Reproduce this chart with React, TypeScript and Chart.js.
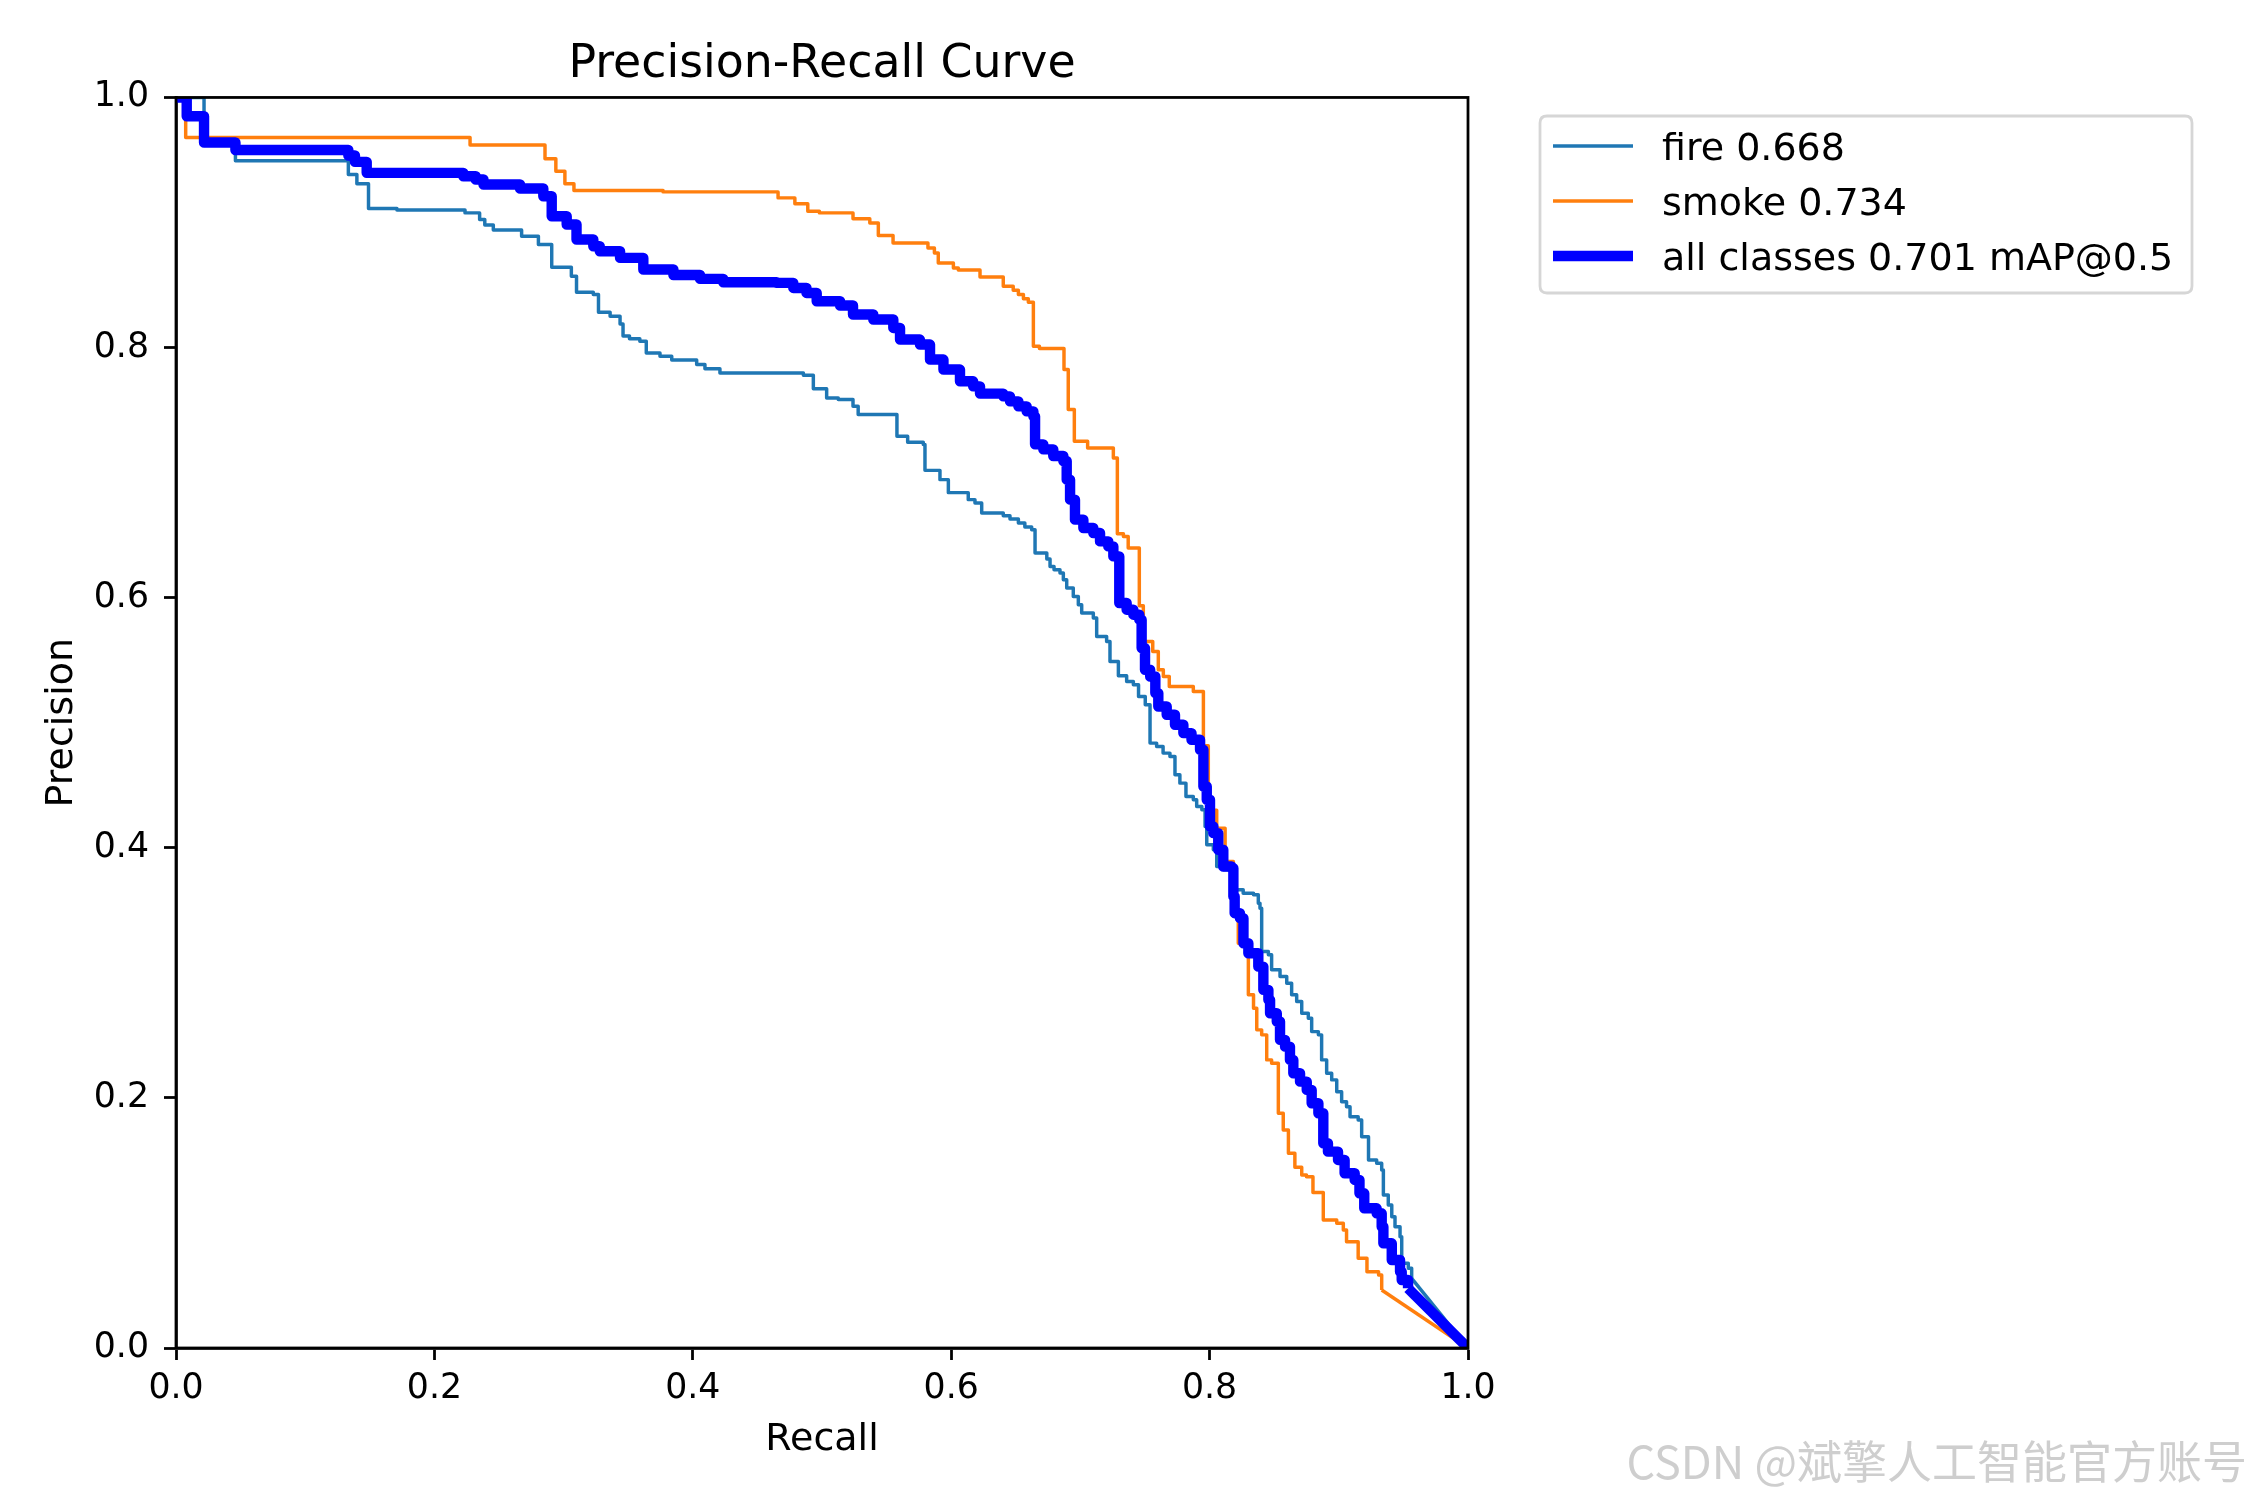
import React, { useEffect, useRef } from 'react';
import { Chart, registerables } from 'chart.js';

Chart.register(...registerables);

// ---------------- data ----------------
const chartTitle = 'Precision-Recall Curve';
const xAxisTitle = 'Recall';
const yAxisTitle = 'Precision';
const xTicks = [0, 0.2, 0.4, 0.6, 0.8, 1.0];
const yTicks = [0, 0.2, 0.4, 0.6, 0.8, 1.0];

const classNames = ['fire', 'smoke'];
const classAP = [0.668, 0.734];
const allLabel = 'all classes';
const allAP = 0.701;
const allSuffix = 'mAP@0.5';

// each point = recall where a precision level starts, and that level
const fireRecall = [
  0, 0.0217, 0.046, 0.1334, 0.14, 0.149, 0.171, 0.2237, 0.235, 0.239, 0.2456, 0.2675, 0.2805, 0.2908,
  0.306, 0.31, 0.323, 0.327, 0.336, 0.3437, 0.346, 0.351, 0.359, 0.364, 0.3746, 0.3837, 0.403, 0.4094,
  0.421, 0.4856, 0.4933, 0.5036, 0.5126, 0.524, 0.528, 0.558, 0.5663, 0.5784, 0.5797, 0.5913, 0.5978,
  0.6132, 0.6184, 0.6236, 0.6403, 0.6455, 0.652, 0.657, 0.6623, 0.6649, 0.674, 0.6765, 0.6796, 0.6842,
  0.6868, 0.6894, 0.6945, 0.6984, 0.701, 0.71, 0.7126, 0.7203, 0.7229, 0.7294, 0.7358, 0.741, 0.745,
  0.7502, 0.7539, 0.759, 0.764, 0.7693, 0.7732, 0.777, 0.7817, 0.7874, 0.79, 0.794, 0.7965, 0.7978,
  0.8029, 0.8055, 0.8106, 0.8184, 0.826, 0.834, 0.8377, 0.839, 0.8403, 0.8455, 0.848, 0.8545, 0.8597,
  0.8635, 0.8674, 0.8713, 0.8764, 0.879, 0.8842, 0.8867, 0.8906, 0.8945, 0.8984, 0.9022, 0.906, 0.9087,
  0.915, 0.9177, 0.923, 0.9293, 0.9332, 0.9345, 0.9383, 0.941, 0.9435, 0.9474, 0.9487, 0.9538, 0.9564,
];
const firePrecision = [
  1.0, 0.962, 0.9494, 0.9384, 0.931, 0.9112, 0.91, 0.9077, 0.9024, 0.898, 0.894, 0.889, 0.8824, 0.8643,
  0.857, 0.8443, 0.8424, 0.8283, 0.825, 0.8189, 0.8093, 0.807, 0.805, 0.7957, 0.793, 0.79, 0.7864, 0.783,
  0.7797, 0.7779, 0.767, 0.7597, 0.7584, 0.753, 0.7464, 0.729, 0.7243, 0.7225, 0.7018, 0.6944, 0.684,
  0.6784, 0.6757, 0.6677, 0.6656, 0.663, 0.6597, 0.6565, 0.6544, 0.6357, 0.6309, 0.625, 0.6224, 0.6197,
  0.6144, 0.6077, 0.601, 0.5944, 0.5877, 0.5837, 0.569, 0.565, 0.549, 0.5376, 0.533, 0.5304, 0.521,
  0.5144, 0.4837, 0.481, 0.4757, 0.473, 0.4584, 0.4517, 0.441, 0.4384, 0.433, 0.4304, 0.417, 0.4024,
  0.3984, 0.385, 0.3824, 0.3664, 0.3637, 0.3624, 0.3557, 0.3517, 0.317, 0.3144, 0.3024, 0.297, 0.2917,
  0.2824, 0.277, 0.2677, 0.2637, 0.253, 0.2504, 0.2304, 0.2197, 0.2144, 0.205, 0.197, 0.193, 0.185,
  0.1824, 0.169, 0.1504, 0.1477, 0.1424, 0.1224, 0.1144, 0.105, 0.097, 0.089, 0.0677, 0.0637, 0.0557,
];
const fireTailRecall = [0.9564, 1.0];
const fireTailPrecision = [0.0557, 0.0];

const smokeRecall = [
  0, 0.0075, 0.2276, 0.2856, 0.294, 0.301, 0.308, 0.377, 0.466, 0.479, 0.489, 0.498, 0.524, 0.537,
  0.5436, 0.555, 0.582, 0.587, 0.59, 0.6017, 0.6055, 0.6223, 0.6403, 0.648, 0.652, 0.6559, 0.6597,
  0.6636, 0.6683, 0.6873, 0.6906, 0.6953, 0.7056, 0.7255, 0.7286, 0.7333, 0.737, 0.7456, 0.7487, 0.756,
  0.7603, 0.7642, 0.7688, 0.7874, 0.7952, 0.799, 0.8055, 0.812, 0.8184, 0.8222, 0.8287, 0.83, 0.834,
  0.8365, 0.8403, 0.8442, 0.848, 0.8532, 0.857, 0.861, 0.866, 0.8713, 0.875, 0.88, 0.888, 0.8984,
  0.9035, 0.906, 0.915, 0.9218, 0.9308, 0.9332,
];
const smokePrecision = [
  1.0, 0.968, 0.962, 0.951, 0.941, 0.931, 0.9256, 0.9245, 0.9197, 0.915, 0.909, 0.9077, 0.903, 0.8997,
  0.8896, 0.8837, 0.8797, 0.8757, 0.8677, 0.8637, 0.862, 0.8565, 0.849, 0.8458, 0.8424, 0.839, 0.8362,
  0.801, 0.7992, 0.7824, 0.7504, 0.725, 0.7197, 0.7117, 0.6512, 0.649, 0.6397, 0.5936, 0.565, 0.557,
  0.5424, 0.537, 0.529, 0.525, 0.4816, 0.43, 0.4157, 0.389, 0.3457, 0.3237, 0.3213, 0.2824, 0.2717,
  0.2544, 0.2504, 0.2304, 0.2277, 0.1877, 0.1744, 0.1557, 0.1445, 0.1384, 0.137, 0.1243, 0.1024, 0.0997,
  0.0944, 0.085, 0.0717, 0.061, 0.0584, 0.0464,
];
const smokeTailRecall = [0.9332, 1.0];
const smokeTailPrecision = [0.0464, 0.0];

const allRecall = [
  0, 0.0083, 0.0217, 0.046, 0.1334, 0.1385, 0.1476, 0.2224, 0.232, 0.238, 0.2663, 0.2843, 0.2908,
  0.3024, 0.31, 0.323, 0.328, 0.3437, 0.3617, 0.385, 0.4056, 0.4236, 0.4649, 0.4778, 0.488, 0.4959,
  0.514, 0.524, 0.5397, 0.5552, 0.5604, 0.5758, 0.5836, 0.594, 0.6068, 0.617, 0.6223, 0.6403, 0.6455,
  0.652, 0.6584, 0.6636, 0.6649, 0.6713, 0.679, 0.6868, 0.6894, 0.692, 0.6958, 0.7023, 0.71, 0.7152,
  0.7216, 0.7255, 0.7301, 0.7358, 0.741, 0.7456, 0.7474, 0.75, 0.754, 0.758, 0.7603, 0.7668, 0.7732,
  0.7797, 0.786, 0.7926, 0.7952, 0.7978, 0.8003, 0.8029, 0.8067, 0.8106, 0.817, 0.8184, 0.8194, 0.8235,
  0.8262, 0.83, 0.8377, 0.8416, 0.8455, 0.8468, 0.852, 0.8545, 0.8584, 0.8622, 0.8648, 0.87, 0.8752,
  0.879, 0.8842, 0.888, 0.8916, 0.8994, 0.9045, 0.9123, 0.916, 0.9197, 0.9293, 0.9332, 0.9345, 0.941,
  0.9474, 0.9487, 0.9536,
];
const allPrecision = [
  1.0, 0.985, 0.964, 0.958, 0.9536, 0.9485, 0.9397, 0.937, 0.9344, 0.9304, 0.9272, 0.921, 0.905,
  0.8984, 0.8864, 0.881, 0.877, 0.8717, 0.8624, 0.858, 0.8549, 0.8522, 0.8517, 0.8477, 0.8437, 0.837,
  0.8336, 0.8264, 0.8224, 0.8157, 0.8064, 0.8024, 0.7904, 0.7824, 0.773, 0.769, 0.7632, 0.761, 0.757,
  0.753, 0.749, 0.745, 0.7226, 0.7186, 0.7133, 0.7093, 0.6944, 0.6784, 0.6624, 0.6557, 0.6517, 0.645,
  0.641, 0.633, 0.5957, 0.5904, 0.5864, 0.5824, 0.5597, 0.5424, 0.537, 0.5237, 0.513, 0.5064, 0.4984,
  0.4917, 0.4864, 0.4784, 0.449, 0.4384, 0.417, 0.4117, 0.3984, 0.385, 0.3837, 0.361, 0.3477, 0.3437,
  0.3237, 0.3157, 0.305, 0.2864, 0.2784, 0.2677, 0.2611, 0.2464, 0.241, 0.2304, 0.2197, 0.213, 0.2064,
  0.1957, 0.1877, 0.1637, 0.157, 0.1504, 0.1397, 0.1344, 0.1237, 0.1117, 0.1077, 0.097, 0.0837, 0.0704,
  0.061, 0.0544, 0.0477,
];
const allTailRecall = [0.9536, 1.0];
const allTailPrecision = [0.0477, 0.0];

const watermark = 'CSDN @斌擎人工智能官方账号';

// ---------------- styling ----------------
const FONT = 'DejaVu Sans';
const PT = 250 / 72;
const FIRE_COLOR = '#1f77b4';
const SMOKE_COLOR = '#ff7f0e';
const ALL_COLOR = '#0000ff';
const TICK_SIZE = 10 * PT;
const LABEL_SIZE = 38;
const TITLE_SIZE = 45.8;

const zip = (xs: number[], ys: number[]) => xs.map((x, i) => ({ x, y: ys[i] }));

export default function App() {
  const ref = useRef<HTMLCanvasElement>(null);

  useEffect(() => {
    const canvas = ref.current;
    if (!canvas) return;

    const legendItems = [
      { label: `${classNames[0]} ${classAP[0].toFixed(3)}`, color: FIRE_COLOR, width: 1 * PT },
      { label: `${classNames[1]} ${classAP[1].toFixed(3)}`, color: SMOKE_COLOR, width: 1 * PT },
      { label: `${allLabel} ${allAP.toFixed(3)} ${allSuffix}`, color: ALL_COLOR, width: 3 * PT },
    ];

    const framePlugin = {
      id: 'frameAndLegend',
      afterDatasetsDraw(chart: any) {
        const { ctx, chartArea } = chart;
        ctx.save();
        ctx.strokeStyle = '#000';
        ctx.lineWidth = 0.8 * PT;
        ctx.strokeRect(chartArea.left, chartArea.top, chartArea.right - chartArea.left, chartArea.bottom - chartArea.top);
        ctx.restore();
      },
      afterDraw(chart: any) {
        const { ctx } = chart;
        ctx.save();
        // legend box
        const bx = 1540, by = 116, bw = 652, bh = 177, r = 7;
        ctx.beginPath();
        ctx.moveTo(bx + r, by);
        ctx.lineTo(bx + bw - r, by);
        ctx.quadraticCurveTo(bx + bw, by, bx + bw, by + r);
        ctx.lineTo(bx + bw, by + bh - r);
        ctx.quadraticCurveTo(bx + bw, by + bh, bx + bw - r, by + bh);
        ctx.lineTo(bx + r, by + bh);
        ctx.quadraticCurveTo(bx, by + bh, bx, by + bh - r);
        ctx.lineTo(bx, by + r);
        ctx.quadraticCurveTo(bx, by, bx + r, by);
        ctx.closePath();
        ctx.fillStyle = 'rgba(255,255,255,0.8)';
        ctx.fill();
        ctx.strokeStyle = '#d6d6d6';
        ctx.lineWidth = 0.8 * PT;
        ctx.stroke();

        ctx.font = `${LABEL_SIZE}px "${FONT}"`;
        ctx.fillStyle = '#000';
        ctx.textAlign = 'left';
        ctx.textBaseline = 'alphabetic';
        legendItems.forEach((it, i) => {
          const y = 146 + i * 55;
          ctx.beginPath();
          ctx.strokeStyle = it.color;
          ctx.lineWidth = it.width;
          ctx.lineCap = 'butt';
          ctx.moveTo(1553, y);
          ctx.lineTo(1633, y);
          ctx.stroke();
          ctx.fillText(it.label, 1662, y + 14);
        });

        // watermark
        ctx.font = '45px "Noto Sans CJK SC"';
        ctx.fillStyle = 'rgba(190,190,190,0.75)';
        ctx.textAlign = 'right';
        ctx.fillText(watermark, 2247, 1479);
        ctx.restore();
      },
    };

    const tickFont = { family: FONT, size: TICK_SIZE };
    const labelFont = { family: FONT, size: LABEL_SIZE };
    const commonGrid = {
      display: true,
      drawOnChartArea: false,
      drawTicks: true,
      tickLength: 12,
      tickWidth: 0.8 * PT,
      tickColor: '#000',
      color: '#000',
    };
    const commonBorder = { display: true, color: '#000', width: 0.8 * PT };

    const lineBase = {
      pointRadius: 0,
      pointHoverRadius: 0,
      fill: false,
      tension: 0,
      clip: 0,
      borderJoinStyle: 'round' as const,
      borderCapStyle: 'butt' as const,
    };

    const chart = new Chart(canvas, {
      type: 'line',
      data: {
        datasets: [
          { ...lineBase, label: 'all', data: zip(allRecall, allPrecision), borderColor: ALL_COLOR, borderWidth: 3 * PT, stepped: 'before', order: 0 },
          { ...lineBase, label: 'all tail', data: zip(allTailRecall, allTailPrecision), borderColor: ALL_COLOR, borderWidth: 3 * PT, order: 0 },
          { ...lineBase, label: 'smoke', data: zip(smokeRecall, smokePrecision), borderColor: SMOKE_COLOR, borderWidth: 1 * PT, stepped: 'before', order: 1 },
          { ...lineBase, label: 'smoke tail', data: zip(smokeTailRecall, smokeTailPrecision), borderColor: SMOKE_COLOR, borderWidth: 1 * PT, order: 1 },
          { ...lineBase, label: 'fire', data: zip(fireRecall, firePrecision), borderColor: FIRE_COLOR, borderWidth: 1 * PT, stepped: 'before', order: 2 },
          { ...lineBase, label: 'fire tail', data: zip(fireTailRecall, fireTailPrecision), borderColor: FIRE_COLOR, borderWidth: 1 * PT, order: 2 },
        ] as any,
      },
      options: {
        responsive: false,
        maintainAspectRatio: false,
        devicePixelRatio: 1,
        animation: false,
        events: [],
        color: '#000',
        font: { family: FONT },
        layout: { padding: { top: 0, right: 782, left: 0, bottom: 0 } },
        plugins: {
          legend: { display: false },
          tooltip: { enabled: false },
          title: {
            display: true,
            text: chartTitle,
            color: '#000',
            fullSize: false,
            font: { family: FONT, size: TITLE_SIZE, weight: 'normal' },
            padding: { top: 38, bottom: 4.5 },
          },
        },
        scales: {
          x: {
            type: 'linear',
            min: 0,
            max: 1,
            afterBuildTicks: (s: any) => { s.ticks = xTicks.map((v) => ({ value: v })); },
            afterFit: (s: any) => { s.height = 152; },
            ticks: {
              color: '#000',
              font: tickFont,
              padding: 8,
              maxRotation: 0,
              autoSkip: false,
              callback: (v: any) => Number(v).toFixed(1),
            },
            grid: commonGrid,
            border: commonBorder,
            title: { display: true, text: xAxisTitle, color: '#000', font: labelFont, padding: { top: 0, bottom: 37 } },
          },
          y: {
            type: 'linear',
            min: 0,
            max: 1,
            afterBuildTicks: (s: any) => { s.ticks = yTicks.map((v) => ({ value: v })); },
            afterFit: (s: any) => { s.width = 176; },
            ticks: {
              color: '#000',
              font: tickFont,
              padding: 15,
              autoSkip: false,
              callback: (v: any) => Number(v).toFixed(1),
            },
            grid: commonGrid,
            border: commonBorder,
            title: { display: true, text: yAxisTitle, color: '#000', font: labelFont, padding: { top: 39, bottom: 0 } },
          },
        },
      } as any,
      plugins: [framePlugin],
    });

    return () => chart.destroy();
  }, []);

  return (
    <canvas
      ref={ref}
      width={2250}
      height={1500}
      style={{ position: 'absolute', left: 0, top: 0, width: 2250, height: 1500, background: '#fff' }}
    />
  );
}
